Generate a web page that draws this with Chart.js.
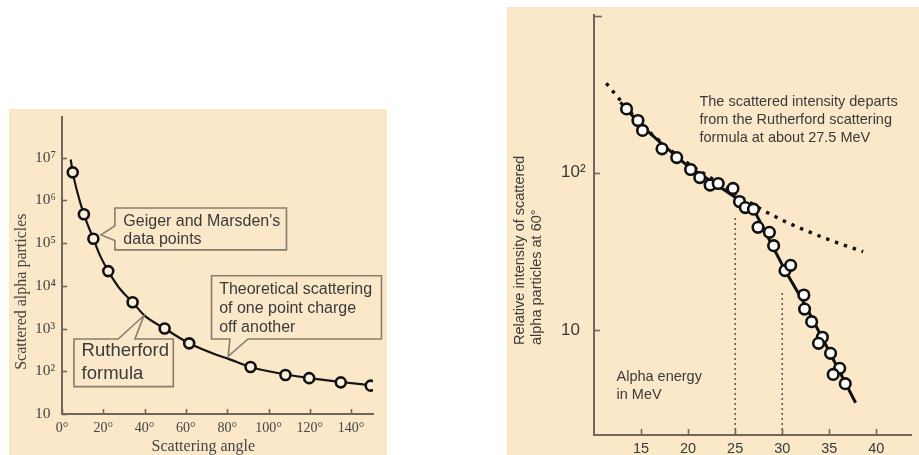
<!DOCTYPE html>
<html><head><meta charset="utf-8">
<script src="https://cdn.jsdelivr.net/npm/chart.js@4.4.1/dist/chart.umd.min.js"></script>
<style>
html,body{margin:0;padding:0;background:#fff;width:919px;height:455px;overflow:hidden}
.panel{position:absolute;background:#fae8c9}
#p1{left:9px;top:109px;width:378px;height:346px}
#p2{left:507px;top:7px;width:412px;height:448px}
canvas{display:block}
</style></head><body>
<div class="panel" id="p1"><canvas id="c1" width="378" height="346"></canvas></div>
<div class="panel" id="p2"><canvas id="c2" width="412" height="448"></canvas></div>
<script>
// ---------- Left chart data (Geiger & Marsden) ----------
const angleDeg        = [5.2, 10.6, 15.2, 22.4, 34.2, 49.7, 61.6, 91.3, 108.2, 119.7, 135, 149.5];
const scatteredCounts = [4.5e6, 4.7e5, 1.26e5, 2.2e4, 4.1e3, 1.0e3, 450, 126, 82, 69, 55, 46];
const curveAngle  = [4.2, 5.2, 7.5, 10.6, 15.2, 18.5, 22.4, 28, 34.2, 40, 49.7, 61.6, 75, 80, 91.3, 100, 108.2, 119.7, 135, 149.5];
const curveCounts = [9.0e6, 4.5e6, 1.5e6, 4.7e5, 1.26e5, 5.0e4, 2.2e4, 8.5e3, 4.1e3, 2.0e3, 1.0e3, 450, 240, 200, 126, 100, 84, 69, 56, 47];
const angleTicks = [0, 20, 40, 60, 80, 100, 120, 140];
const countTicks = [10, 1e2, 1e3, 1e4, 1e5, 1e6, 1e7];
const countTickLabels = ['10', '10²', '10³', '10⁴', '10⁵', '10⁶', '10⁷'];

// ---------- Right chart data (alpha energy) ----------
const energyMeV    = [13.46, 14.67, 15.16, 17.23, 18.79, 20.27, 21.24, 22.34, 23.2, 24.77, 25.46, 26.08, 26.95, 27.43, 28.64, 29.09, 30.3, 30.9, 32.3, 32.38, 33.13, 34.27, 33.86, 35.14, 36.11, 35.42, 36.7];
const relIntensity = [255, 215, 186, 142, 125, 105, 93.3, 83.5, 85.5, 79.6, 65.6, 60.1, 58.7, 45.0, 41.8, 34.4, 23.9, 25.8, 16.7, 13.6, 11.3, 9.0, 8.23, 7.11, 5.71, 5.22, 4.56];
const fitEnergy    = [12.8, 15, 17.5, 20, 22.5, 25, 27.2, 30.3, 32.4, 35, 37.8];
const fitIntensity = [281, 200, 148, 110, 88, 70, 55, 24, 14.6, 7.3, 3.45];
const rutherfordEnergy    = [11.3, 13, 15, 17.5, 20, 22.5, 25, 27.5, 30, 32.5, 35, 38.6];
const rutherfordIntensity = [371, 280, 205, 150, 115, 92, 74, 60, 50, 43, 37.5, 31.5];
const guideEnergy = [25, 30];
const guideTop    = [54, 18];
const energyTicks = [15, 20, 25, 30, 35, 40];
const intensityTicks = [10, 100, 1000];
const intensityTickLabels = ['10', '10²', ''];

const BG = '#fae8c9';
const TXT = '#3a3a3a';
const AXIS = '#6f665c';
Chart.defaults.font.family = "'Liberation Sans', Arial, sans-serif";
Chart.defaults.color = TXT;

function zip(xs, ys) { return xs.map((x, i) => ({ x: x, y: ys[i] })); }
function noPad(s) { s.paddingTop = 0; s.paddingBottom = 0; s.paddingLeft = 0; s.paddingRight = 0; }

// ---------- Left chart ----------
const leftBoxes = [
  { pts: [[25.6,5.82],[108.7,5.82],[108.7,4.84],[25.6,4.84],[25.6,5.06],[18.9,5.19],[25.6,5.40]],
    text: [["Geiger and Marsden's", 29.7, 5.51], ["data points", 29.7, 5.07]], font: 16 },
  { pts: [[72.4,4.233],[154.7,4.233],[154.7,2.755],[90.1,2.755],[80.5,2.35],[81.3,2.755],[72.4,2.755]],
    text: [["Theoretical scattering", 76.1, 3.913], ["of one point charge", 76.1, 3.455], ["off another", 76.1, 3.014]], font: 16 },
  { pts: [[5.8,2.755],[27.2,2.755],[39.7,3.304],[35.3,2.755],[53.9,2.755],[53.9,1.641],[5.8,1.641]],
    text: [["Rutherford", 9.5, 2.465], ["formula", 9.5, 1.931]], font: 18.5 }
];

const leftPlugin = {
  id: 'leftDeco',
  afterDatasetsDraw(chart) {
    const ctx = chart.ctx, xs = chart.scales.x, ys = chart.scales.y;
    ctx.save();
    leftBoxes.forEach(b => {
      ctx.beginPath();
      b.pts.forEach((p, i) => {
        const px = xs.getPixelForValue(p[0]), py = ys.getPixelForValue(Math.pow(10, p[1]));
        if (i === 0) ctx.moveTo(px, py); else ctx.lineTo(px, py);
      });
      ctx.closePath();
      ctx.fillStyle = BG; ctx.fill();
      ctx.strokeStyle = '#877c70'; ctx.lineWidth = 1.6; ctx.stroke();
      ctx.fillStyle = TXT;
      ctx.font = b.font + "px 'Liberation Sans', Arial, sans-serif";
      ctx.textAlign = 'left'; ctx.textBaseline = 'middle';
      b.text.forEach(t => ctx.fillText(t[0], xs.getPixelForValue(t[1]), ys.getPixelForValue(Math.pow(10, t[2]))));
    });
    ctx.restore();
  },
  afterDraw(chart) {
    const ctx = chart.ctx, xs = chart.scales.x, ys = chart.scales.y, a = chart.chartArea;
    ctx.save();
    ctx.strokeStyle = AXIS; ctx.lineWidth = 1.6;
    angleTicks.forEach(v => { const px = Math.round(xs.getPixelForValue(v)) + 0.5;
      ctx.beginPath(); ctx.moveTo(px, a.bottom); ctx.lineTo(px, a.bottom - 5); ctx.stroke(); });
    countTicks.forEach(v => { const py = Math.round(ys.getPixelForValue(v)) + 0.5;
      ctx.beginPath(); ctx.moveTo(a.left, py); ctx.lineTo(a.left + 5, py); ctx.stroke(); });
    ctx.fillStyle = '#444';
    ctx.font = "16px 'Liberation Serif', 'Times New Roman', serif";
    ctx.textAlign = 'center'; ctx.textBaseline = 'middle';
    ctx.fillText('Scattering angle', a.left + 141.3, a.bottom + 32.7);
    ctx.translate(a.left - 40.3, a.top + 175);
    ctx.rotate(-Math.PI / 2);
    ctx.fillText('Scattered alpha particles', 0, 0);
    ctx.restore();
  }
};

new Chart(document.getElementById('c1'), {
  type: 'scatter',
  data: { datasets: [
    { data: zip(angleDeg, scatteredCounts), showLine: false, pointRadius: 5, pointBorderWidth: 2.6,
      pointBackgroundColor: '#fbf0dc', pointBorderColor: '#111' },
    { data: zip(curveAngle, curveCounts), showLine: true, pointRadius: 0, borderColor: '#151515',
      borderWidth: 2.2, tension: 0.4, cubicInterpolationMode: 'monotone', fill: false }
  ]},
  options: {
    responsive: false, animation: false, devicePixelRatio: 1,
    layout: { padding: { left: 26, right: 14, top: 1, bottom: 0 } },
    plugins: { legend: { display: false }, tooltip: { enabled: false } },
    scales: {
      x: { type: 'linear', min: 0, max: 150.6,
        afterBuildTicks: s => { s.ticks = angleTicks.map(v => ({ value: v })); },
        afterFit: s => { s.height = 41; noPad(s); },
        grid: { display: false, drawTicks: false },
        border: { display: true, color: AXIS, width: 2 },
        ticks: { padding: 6, color: '#444', font: { family: "'Liberation Serif', 'Times New Roman', serif", size: 14 },
          callback: v => v + '°', maxRotation: 0 } },
      y: { type: 'logarithmic', min: 10, max: 9.06e7,
        afterBuildTicks: s => { s.ticks = countTicks.map(v => ({ value: v })); },
        afterFit: s => { s.width = 27; noPad(s); },
        grid: { display: false, drawTicks: false },
        border: { display: true, color: AXIS, width: 2 },
        ticks: { crossAlign: 'far', padding: 5, color: '#444', font: { family: "'Liberation Serif', 'Times New Roman', serif", size: 15.5 },
          callback: v => countTickLabels[countTicks.indexOf(v)] } }
    }
  },
  plugins: [leftPlugin]
});

// ---------- Right chart ----------
const rightPlugin = {
  id: 'rightDeco',
  afterDraw(chart) {
    const ctx = chart.ctx, xs = chart.scales.x, ys = chart.scales.y, a = chart.chartArea;
    ctx.save();
    ctx.strokeStyle = AXIS; ctx.lineWidth = 1.6;
    energyTicks.forEach(v => { const px = Math.round(xs.getPixelForValue(v)) + 0.5;
      ctx.beginPath(); ctx.moveTo(px, a.bottom); ctx.lineTo(px, a.bottom - 6); ctx.stroke(); });
    intensityTicks.forEach(v => { const py = Math.round(ys.getPixelForValue(v)) + 0.5;
      ctx.beginPath(); ctx.moveTo(a.left, py); ctx.lineTo(a.left + (v === 1000 ? 8 : 6), py); ctx.stroke(); });
    ctx.fillStyle = TXT;
    ctx.font = "14.5px 'Liberation Sans', Arial, sans-serif";
    ctx.textAlign = 'left'; ctx.textBaseline = 'middle';
    const notes = [
      ['The scattered intensity departs', 21.2, 2.449],
      ['from the Rutherford scattering', 21.2, 2.333],
      ['formula at about 27.5 MeV', 21.2, 2.221],
      ['Alpha energy', 12.39, 0.70],
      ['in MeV', 12.39, 0.589]
    ];
    notes.forEach(n => ctx.fillText(n[0], xs.getPixelForValue(n[1]), ys.getPixelForValue(Math.pow(10, n[2]))));
    const titleLines = ['Relative intensity of scattered', 'alpha particles at 60°'];
    titleLines.forEach((t, i) => {
      ctx.save();
      ctx.translate(a.left - 74 + i * 17, a.bottom - 90);
      ctx.rotate(-Math.PI / 2);
      ctx.fillText(t, 0, 0);
      ctx.restore();
    });
    ctx.restore();
  }
};

const guideSets = guideEnergy.map((e, i) => ({
  data: [{ x: e, y: 2.15 }, { x: e, y: guideTop[i] }], showLine: true, pointRadius: 0,
  borderColor: '#333', borderWidth: 1.2, borderDash: [2, 3], fill: false
}));

new Chart(document.getElementById('c2'), {
  type: 'scatter',
  data: { datasets: [
    { data: zip(energyMeV, relIntensity), showLine: false, pointRadius: 5.3, pointBorderWidth: 2.6,
      pointBackgroundColor: '#ffffff', pointBorderColor: '#111' },
    { data: zip(fitEnergy, fitIntensity), showLine: true, pointRadius: 0, borderColor: '#111',
      borderWidth: 3, tension: 0, fill: false },
    { data: zip(rutherfordEnergy, rutherfordIntensity), showLine: true, pointRadius: 0, borderColor: '#111',
      borderWidth: 3.4, borderDash: [3.4, 6], tension: 0.3, cubicInterpolationMode: 'monotone', fill: false },
    ...guideSets
  ]},
  options: {
    responsive: false, animation: false, devicePixelRatio: 1,
    layout: { padding: { left: 54, right: 0, top: 5, bottom: 0 } },
    plugins: { legend: { display: false }, tooltip: { enabled: false } },
    scales: {
      x: { type: 'linear', min: 10, max: 43.7,
        afterBuildTicks: s => { s.ticks = energyTicks.map(v => ({ value: v })); },
        afterFit: s => { s.height = 20; noPad(s); },
        grid: { display: false, drawTicks: false },
        border: { display: true, color: AXIS, width: 2 },
        ticks: { padding: 5, color: TXT, font: { size: 14.5 }, maxRotation: 0 } },
      y: { type: 'logarithmic', min: 2.15, max: 1010,
        afterBuildTicks: s => { s.ticks = intensityTicks.map(v => ({ value: v })); },
        afterFit: s => { s.width = 33; noPad(s); },
        grid: { display: false, drawTicks: false },
        border: { display: true, color: AXIS, width: 2 },
        ticks: { crossAlign: 'far', padding: 5, color: TXT, font: { size: 17 },
          callback: v => intensityTickLabels[intensityTicks.indexOf(v)] } }
    }
  },
  plugins: [rightPlugin]
});
</script>
</body></html>
